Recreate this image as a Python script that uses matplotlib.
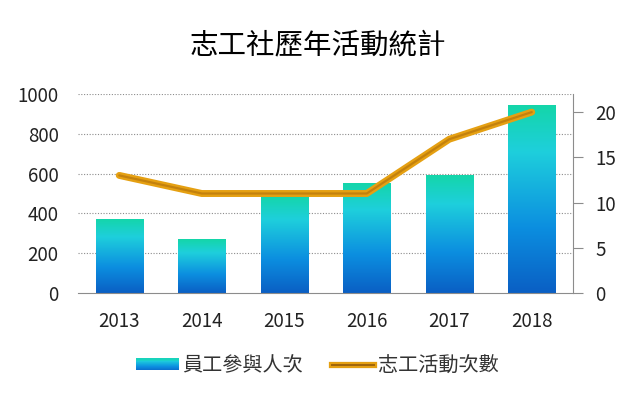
import numpy as np
import matplotlib
matplotlib.use("Agg")
import matplotlib.pyplot as plt
from matplotlib.colors import LinearSegmentedColormap
from matplotlib.lines import Line2D
from matplotlib.patches import Rectangle
from matplotlib.legend_handler import HandlerBase, HandlerTuple

plt.rcParams['font.family'] = ['Noto Sans CJK TC', 'DejaVu Sans']

# data
years = ['2013', '2014', '2015', '2016', '2017', '2018']
participants = [372, 271, 490, 553, 593, 945]
activities = [13, 11, 11, 11, 17, 20]

fig = plt.figure(figsize=(6.35, 3.99), dpi=100)
ax = fig.add_axes([78 / 635, 1 - 293 / 399, 495 / 635, 199 / 399])
ax2 = ax.twinx()

x = np.arange(len(years))
bar_w = 0.57

# gradient colours: teal top -> cyan -> blue bottom
grad = LinearSegmentedColormap.from_list(
    'bars', [(0.0, '#0a5fc4'), (0.35, '#0c8fe0'), (0.75, '#1ecfdc'), (1.0, '#14d6a8')])
g = np.linspace(0, 1, 256).reshape(-1, 1)

bars = ax.bar(x, participants, width=bar_w, color='none', zorder=2)
for b in bars:
    x0, y0 = b.get_x(), b.get_y()
    w, h = b.get_width(), b.get_height()
    im = ax.imshow(g, cmap=grad, origin='lower', aspect='auto',
                   extent=[x0, x0 + w, y0, y0 + h], zorder=2)
    im.set_clip_path(b)

ax.set_xlim(-0.5, len(years) - 0.5)
ax.set_ylim(0, 1000)
ax.set_yticks(range(0, 1001, 200))
ax.set_xticks(x)
ax.set_xticklabels(years)
for yv in range(200, 1001, 200):
    ax.axhline(yv, color='#8c8c8c', lw=0.8, ls=(0, (1, 1.5)), zorder=1)

for s in ['top', 'left', 'right']:
    ax.spines[s].set_visible(False)
ax.spines['bottom'].set_color('#8c8c8c')
ax.tick_params(axis='both', length=0, labelsize=13.5, colors='#222222')
ax.tick_params(axis='y', pad=14)
ax.tick_params(axis='x', pad=13)

# line on secondary axis
ax2.plot(x, activities, color='#e5a012', lw=5, solid_capstyle='round', zorder=3)
ax2.plot(x, activities, color='#b5740c', lw=1.6, alpha=0.7, solid_capstyle='round', zorder=4)
ax2.set_ylim(0, 22)
ax2.set_yticks(range(0, 21, 5))
for s in ['top', 'left', 'bottom']:
    ax2.spines[s].set_visible(False)
ax2.spines['right'].set_color('#8c8c8c')
ax2.tick_params(axis='y', length=7, color='#8c8c8c', labelsize=13.5, labelcolor='#222222', pad=9)

fig.text(0.5, 1 - 45 / 399, '志工社歷年活動統計', ha='center', va='center',
         fontsize=20.5, fontweight='medium')


class GradientHandler(HandlerBase):
    def create_artists(self, legend, orig_handle, xdescent, ydescent,
                       width, height, fontsize, trans):
        arts = []
        n = 12
        for i in range(n):
            r = Rectangle((-xdescent, -ydescent + height * i / n), width, height / n + 0.3,
                          facecolor=grad(0.15 + 0.75 * i / (n - 1)), edgecolor='none',
                          transform=trans)
            arts.append(r)
        return arts


# legend
h1 = Rectangle((0, 0), 1, 1, facecolor='#1a9be0')
h2a = Line2D([], [], color='#e5a012', lw=4.5)
h2b = Line2D([], [], color='#a0650a', lw=1.4)
leg = fig.legend([h1, (h2a, h2b)], ['員工參與人次', '志工活動次數'], loc='center',
                 bbox_to_anchor=(0.5, 1 - 366 / 399), ncol=2, frameon=False,
                 fontsize=14.5, handlelength=2.1, handleheight=0.5, columnspacing=1.4,
                 handletextpad=0.2,
                 handler_map={Rectangle: GradientHandler(), tuple: HandlerTuple(ndivide=1)})
for t in leg.get_texts():
    t.set_color('#333333')

fig.savefig('out.png', dpi=100)
